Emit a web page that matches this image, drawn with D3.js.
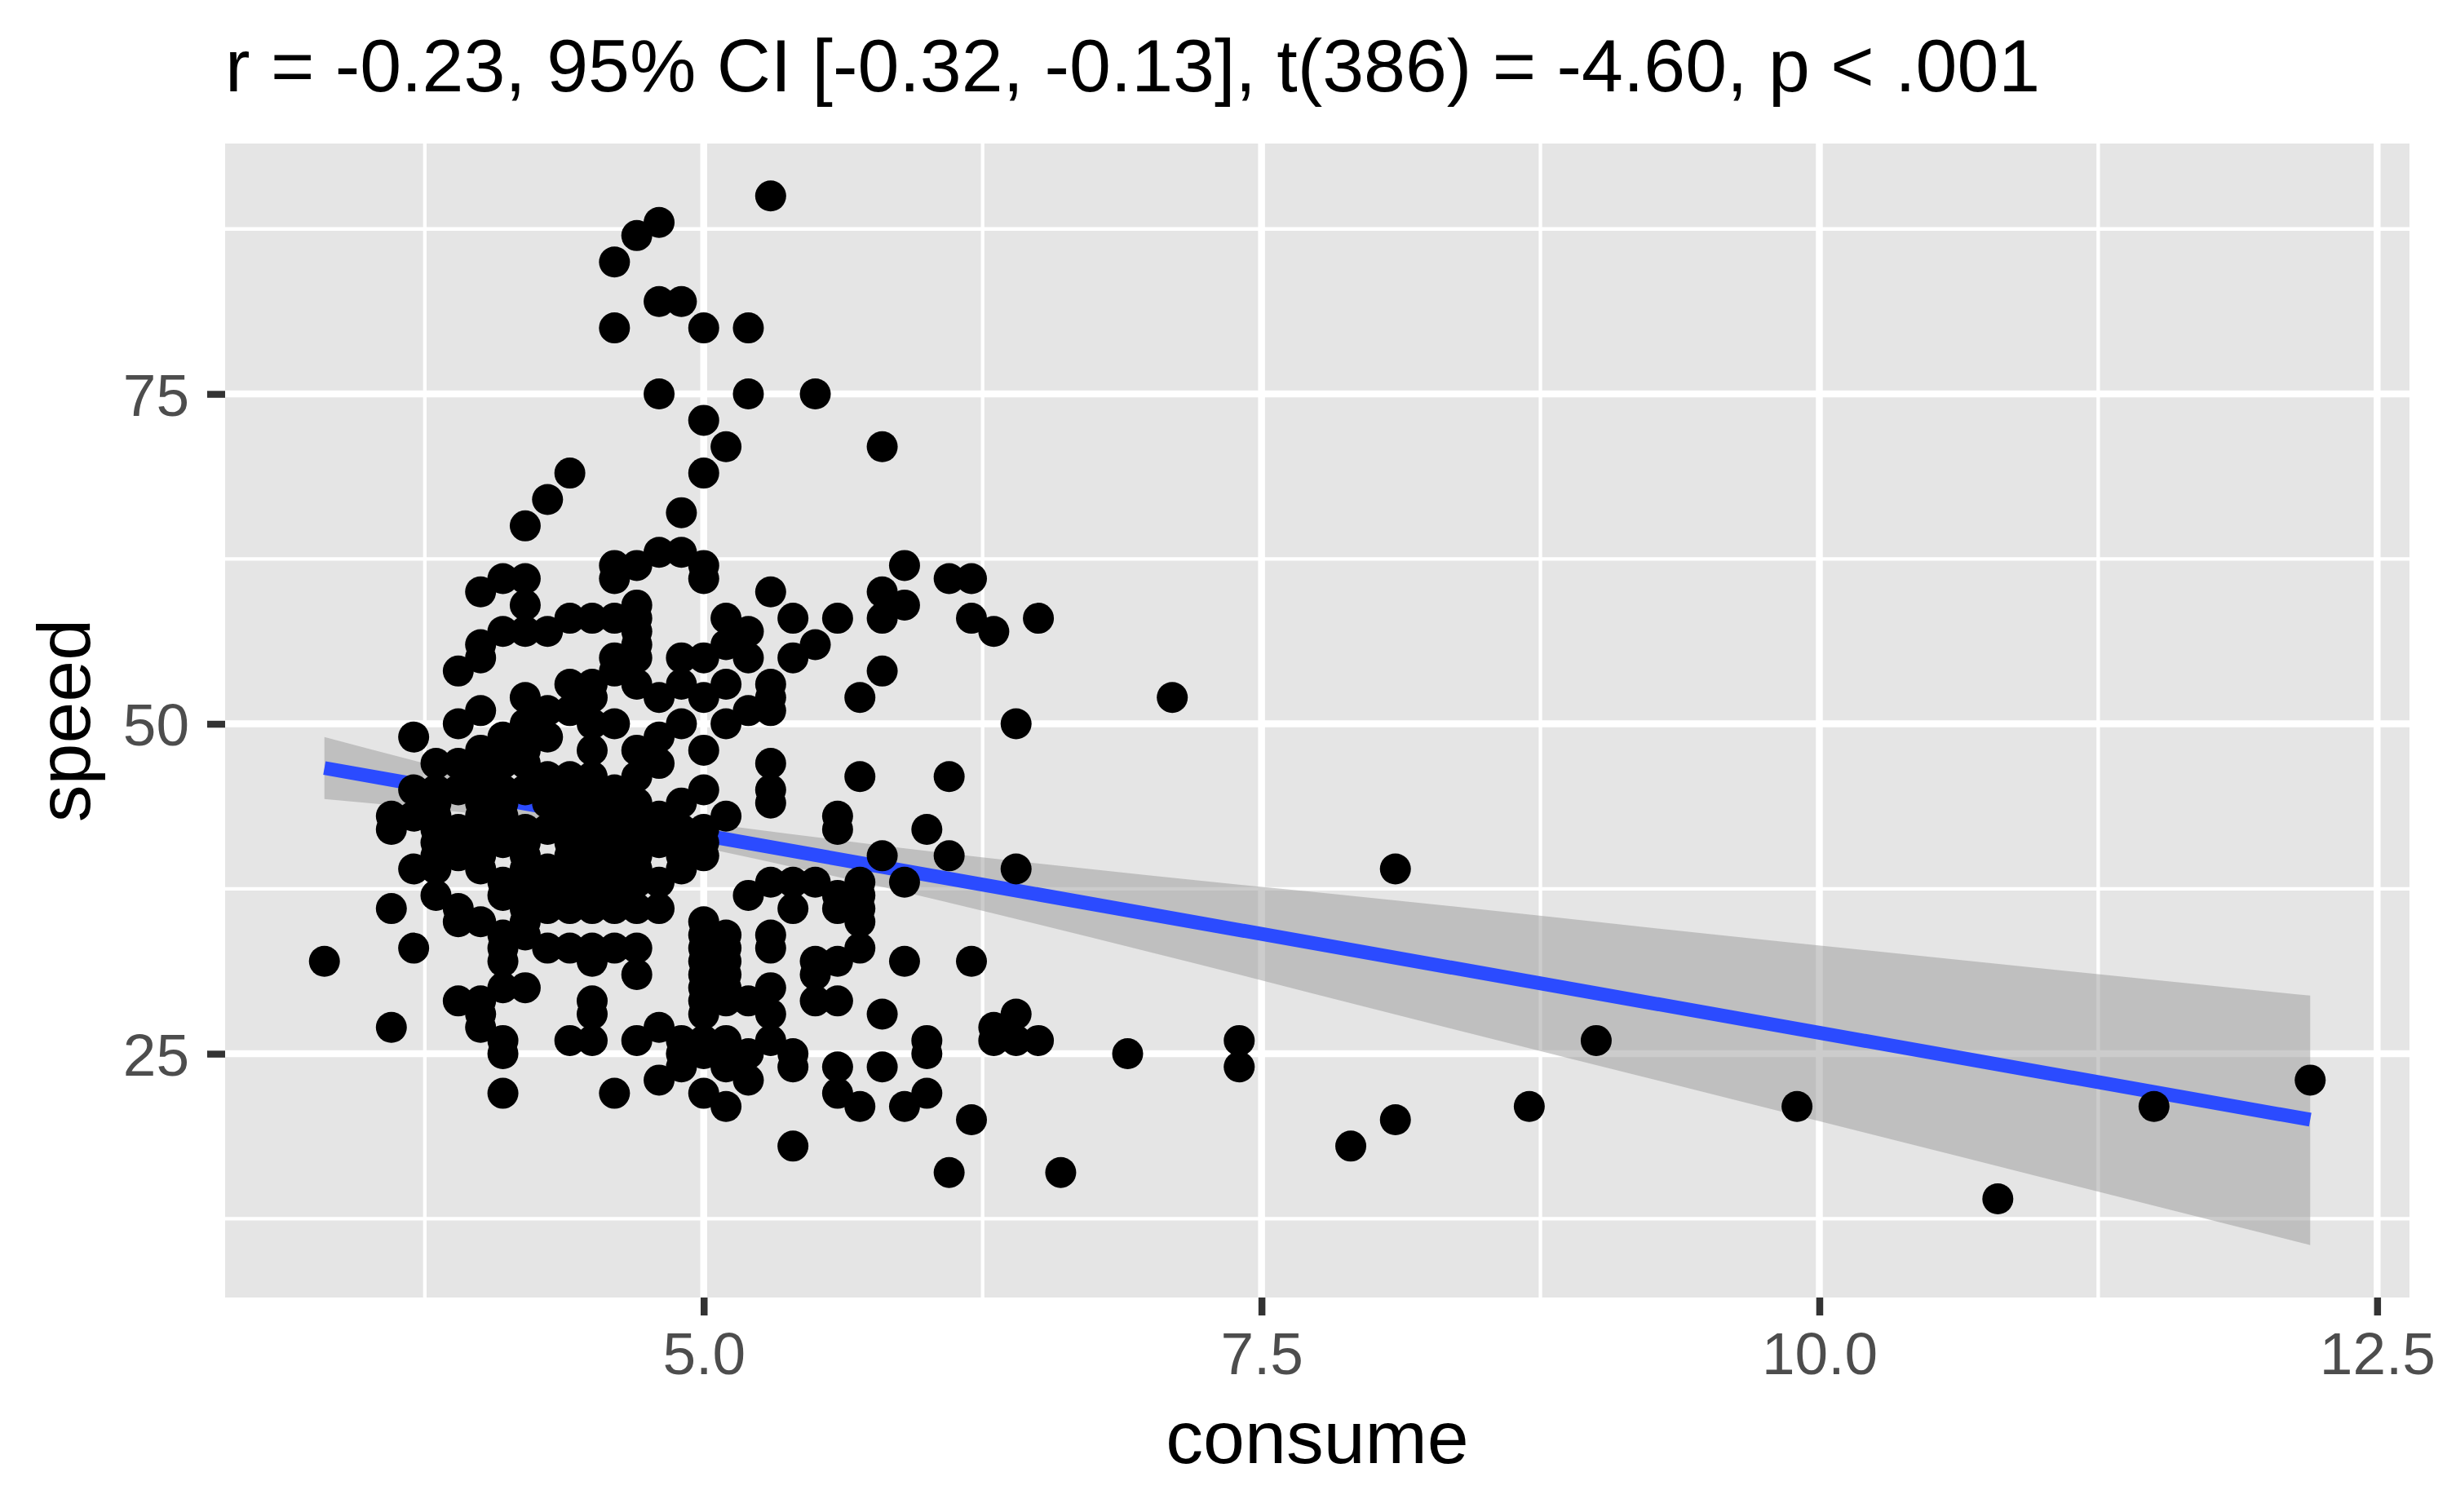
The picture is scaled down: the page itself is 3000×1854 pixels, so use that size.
<!DOCTYPE html>
<html>
<head>
<meta charset="utf-8">
<title>speed vs consume</title>
<script src="https://d3js.org/d3.v7.min.js"></script>
<style>
  body { margin: 0; background: #fff; }
  svg text { font-family: "Liberation Sans", Arial, Helvetica, sans-serif; }
  .tick line { stroke: #333333; stroke-width: 8.5px; }
  .tick text { fill: #4D4D4D; font-size: 73px; }
</style>
</head>
<body>
<svg id="chart" width="3000" height="1854"></svg>
<script>
// points, one row per speed level
var speedRows = [90, 88, 87, 85, 82, 80, 75, 73, 71, 69, 67, 66, 65, 63, 62, 61, 60, 59, 58, 57,
  56, 55, 54, 53, 52, 51, 50, 49, 48, 47, 46, 45, 44, 43, 42, 41, 40, 39, 38, 37,
  36, 35, 34, 33, 32, 31, 30, 29, 28, 27, 26, 25, 24, 23, 22, 21, 20, 18, 16, 14];
var consumeRows = [
  [5.3], [4.8], [4.7], [4.6], [4.8, 4.9], [4.6, 5.0, 5.2], [4.8, 5.2, 5.5], [5.0], [5.1, 5.8], [4.4, 5.0],
  [4.3], [4.9], [4.2], [4.8, 4.9], [4.6, 4.7, 5.0, 5.9], [4.1, 4.2, 4.6, 5.0, 6.1, 6.2], [4.0, 5.3, 5.8],
  [4.2, 4.7, 5.9], [4.4, 4.5, 4.6, 4.7, 5.1, 5.4, 5.6, 5.8, 6.2, 6.5], [4.1, 4.2, 4.3, 4.7, 5.2, 6.3],
  [4.0, 4.7, 5.1, 5.5], [4.0, 4.6, 4.7, 4.9, 5.0, 5.2, 5.4], [3.9, 4.6, 5.8], [4.4, 4.5, 4.7, 4.9, 5.1, 5.3],
  [4.2, 4.5, 4.8, 5.0, 5.3, 5.7, 7.1], [4.0, 4.3, 4.4, 5.2, 5.3], [3.9, 4.2, 4.5, 4.6, 4.9, 5.1, 6.4],
  [3.7, 4.1, 4.3, 4.8], [4.0, 4.1, 4.2, 4.5, 4.7, 5.0], [3.8, 3.9, 4.1, 4.2, 4.8, 5.3],
  [4.0, 4.3, 4.4, 4.5, 4.7, 5.7, 6.1], [3.7, 3.8, 3.9, 4.0, 4.1, 4.2, 4.4, 4.5, 4.6, 5.0, 5.3],
  [3.8, 4.0, 4.1, 4.3, 4.4, 4.5, 4.6, 4.7, 4.9, 5.3], [3.6, 3.7, 3.8, 4.0, 4.1, 4.4, 4.5, 4.6, 4.7, 4.8, 5.1, 5.6],
  [3.6, 3.8, 3.9, 4.0, 4.2, 4.3, 4.4, 4.5, 4.6, 4.7, 4.8, 4.9, 5.0, 5.6, 6.0],
  [3.8, 3.9, 4.1, 4.2, 4.4, 4.5, 4.6, 4.7, 4.8, 5.0], [3.8, 3.9, 4.0, 4.2, 4.4, 4.5, 4.6, 4.7, 4.9, 5.0, 5.8, 6.1],
  [3.7, 3.8, 4.0, 4.2, 4.3, 4.4, 4.5, 4.6, 4.7, 4.9, 6.4, 8.1], [4.1, 4.3, 4.4, 4.5, 4.6, 4.7, 4.8, 5.3, 5.4, 5.5, 5.7, 5.9],
  [3.8, 4.1, 4.2, 4.3, 4.4, 4.5, 4.6, 5.2, 5.6, 5.7], [3.6, 3.9, 4.2, 4.3, 4.4, 4.5, 4.6, 4.7, 4.8, 5.4, 5.6, 5.7],
  [3.9, 4.0, 4.2, 5.0, 5.7], [4.1, 4.2, 5.0, 5.1, 5.3], [3.7, 4.1, 4.3, 4.4, 4.5, 4.6, 4.7, 5.0, 5.1, 5.3, 5.7],
  [3.3, 4.1, 4.5, 5.0, 5.1, 5.5, 5.6, 5.9, 6.2], [4.7, 5.0, 5.1, 5.5], [4.1, 4.2, 5.0, 5.1, 5.3],
  [3.9, 4.0, 4.5, 5.0, 5.1, 5.2, 5.5, 5.6], [4.0, 4.5, 5.0, 5.3, 5.8, 6.4], [3.6, 4.0, 4.8, 6.3],
  [4.1, 4.4, 4.5, 4.7, 4.9, 5.0, 5.1, 5.3, 6.0, 6.3, 6.4, 6.5, 7.4, 9.0], [4.1, 4.9, 5.0, 5.2, 5.4, 6.0, 6.9],
  [4.9, 5.1, 5.4, 5.6, 5.8, 7.4], [4.8, 5.2, 12.2], [4.1, 4.6, 5.0, 5.6, 6.0], [5.1, 5.7, 5.9, 8.7, 9.9, 11.5],
  [6.2, 8.1], [5.4, 7.9], [6.1, 6.6], [10.8]
];

// linear fit and its 95% band
var fitX = [3.3, 12.2];
var fitY = [46.65, 20.0];
var bandX = [3.3, 3.5, 4.75, 5.6, 7.0, 8.0, 9.55, 12.2];
var bandLow = [44.3, 44.0, 41.4, 38.4, 32.7, 28.4, 21.8, 10.5];
var bandHigh = [49.0, 48.1, 43.2, 41.2, 38.5, 36.8, 34.0, 29.4];

var xBreaks = [5, 7.5, 10, 12.5];
var xMinor = [3.75, 6.25, 8.75, 11.25];
var yBreaks = [25, 50, 75];
var yMinor = [12.5, 37.5, 62.5, 87.5];

var title = "r = -0.23, 95% CI [-0.32, -0.13], t(386) = -4.60, p < .001";

var points = [];
speedRows.forEach(function(s, i) {
  consumeRows[i].forEach(function(c) { points.push({consume: c, speed: s}); });
});

// panel box
var panelL = 276, panelR = 2954, panelT = 176, panelB = 1591;

function expand(e) {
  var pad = (e[1] - e[0]) * 0.05;
  return [e[0] - pad, e[1] + pad];
}

var x = d3.scaleLinear()
  .domain(expand(d3.extent(points, function(d) { return d.consume; })))
  .range([panelL, panelR]);

var y = d3.scaleLinear()
  .domain(expand([
    Math.min(d3.min(points, function(d) { return d.speed; }), d3.min(bandLow)),
    Math.max(d3.max(points, function(d) { return d.speed; }), d3.max(bandHigh))
  ]))
  .range([panelB, panelT]);

var svg = d3.select("#chart");

svg.append("rect")
  .attr("x", panelL).attr("y", panelT)
  .attr("width", panelR - panelL).attr("height", panelB - panelT)
  .attr("fill", "#E5E5E5");

// grid
var grid = svg.append("g");
grid.selectAll(".xminor").data(xMinor).enter().append("line")
  .attr("x1", x).attr("x2", x).attr("y1", panelT).attr("y2", panelB)
  .attr("stroke", "#fff").attr("stroke-width", 4.3);
grid.selectAll(".yminor").data(yMinor).enter().append("line")
  .attr("y1", y).attr("y2", y).attr("x1", panelL).attr("x2", panelR)
  .attr("stroke", "#fff").attr("stroke-width", 4.3);
grid.selectAll(".xmajor").data(xBreaks).enter().append("line")
  .attr("x1", x).attr("x2", x).attr("y1", panelT).attr("y2", panelB)
  .attr("stroke", "#fff").attr("stroke-width", 8.5);
grid.selectAll(".ymajor").data(yBreaks).enter().append("line")
  .attr("y1", y).attr("y2", y).attr("x1", panelL).attr("x2", panelR)
  .attr("stroke", "#fff").attr("stroke-width", 8.5);

// confidence band
var band = bandX.map(function(v, i) { return {x: v, lo: bandLow[i], hi: bandHigh[i]}; });
svg.append("path")
  .datum(band)
  .attr("fill", "#999999")
  .attr("fill-opacity", 0.5)
  .attr("d", d3.area()
    .curve(d3.curveMonotoneX)
    .x(function(d) { return x(d.x); })
    .y0(function(d) { return y(d.lo); })
    .y1(function(d) { return y(d.hi); }));

// fit line
svg.append("path")
  .datum(fitX.map(function(v, i) { return [v, fitY[i]]; }))
  .attr("fill", "none")
  .attr("stroke", "#2B4BFF")
  .attr("stroke-width", 17)
  .attr("d", d3.line()
    .x(function(d) { return x(d[0]); })
    .y(function(d) { return y(d[1]); }));

// points
svg.append("g")
  .selectAll("circle")
  .data(points)
  .enter().append("circle")
  .attr("cx", function(d) { return x(d.consume); })
  .attr("cy", function(d) { return y(d.speed); })
  .attr("r", 19)
  .attr("fill", "#000");

// axes
var xAxis = svg.append("g")
  .attr("transform", "translate(0," + panelB + ")")
  .call(d3.axisBottom(x).tickValues(xBreaks).tickFormat(d3.format(".1f")).tickSize(22).tickPadding(20));
xAxis.select(".domain").remove();
xAxis.attr("font-size", null).attr("font-family", null);

var yAxis = svg.append("g")
  .attr("transform", "translate(" + panelL + ",0)")
  .call(d3.axisLeft(y).tickValues(yBreaks).tickSize(22).tickPadding(22));
yAxis.select(".domain").remove();
yAxis.attr("font-size", null).attr("font-family", null);
yAxis.selectAll(".tick text").attr("dy", "0.36em");

// titles
svg.append("text")
  .attr("x", panelL)
  .attr("y", 112)
  .attr("font-size", 91.5)
  .attr("fill", "#000")
  .text(title);

svg.append("text")
  .attr("x", (panelL + panelR) / 2)
  .attr("y", 1794)
  .attr("text-anchor", "middle")
  .attr("font-size", 91.5)
  .attr("fill", "#000")
  .text("consume");

svg.append("text")
  .attr("transform", "translate(110," + (panelT + panelB) / 2 + ") rotate(-90)")
  .attr("text-anchor", "middle")
  .attr("font-size", 91.5)
  .attr("fill", "#000")
  .text("speed");
</script>
</body>
</html>
